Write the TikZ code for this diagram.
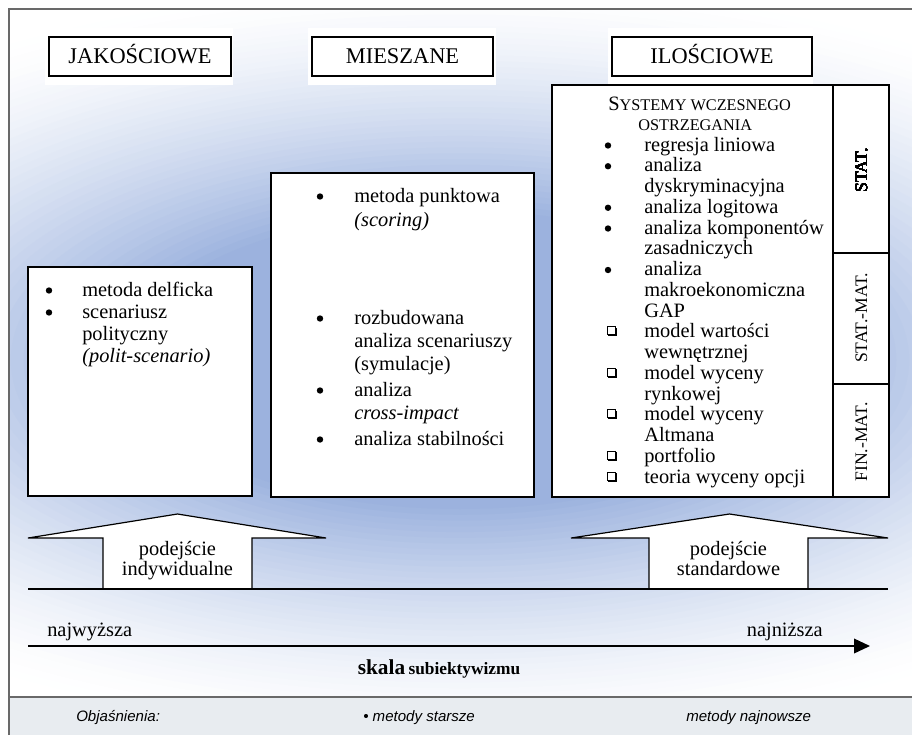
\documentclass[tikz,border=0pt]{standalone}
\usepackage{fontspec}
\setmainfont{Liberation Serif}
\newfontfamily\legfont{Liberation Sans}
\usetikzlibrary{arrows.meta,shadows}
\definecolor{glowc}{RGB}{155,178,222}
\definecolor{legbg}{RGB}{232,236,240}
\definecolor{framec}{RGB}{105,105,105}
\tikzset{
  boxline/.style={draw=black, line width=0.9pt},
  hdr/.style={boxline, fill=white, inner sep=0pt, text height=11.25pt, text depth=0pt,
    font=\fontsize{16.8}{20}\selectfont,
    drop shadow={shadow xshift=1.1pt, shadow yshift=-1.1pt, fill=black!75, opacity=1}},
  txt/.style={anchor=base west, inner sep=0pt, font=\fontsize{15.3}{18}\selectfont},
  side/.style={rotate=90, inner sep=0pt, font=\fontsize{13.2}{16}\selectfont},
  dot/.style={fill=black},
  legtxt/.style={anchor=base west, inner sep=0pt, font=\legfont\itshape\fontsize{11.3}{13}\selectfont},
  upar/.style={boxline, fill=white, line join=miter}
}
\newcommand{\rbul}[2]{\fill[dot] (#1,{#2-5.5}) circle (2.4pt);}
\newcommand{\sqbul}[2]{%
  \draw[line width=0.6pt] ({#1-4},{#2-11}) rectangle ({#1+4},{#2-3});
  \draw[line width=1.3pt] ({#1-3},{#2-2.2}) -- ({#1+4.8},{#2-2.2}) -- ({#1+4.8},{#2-10});}
\begin{document}
\begin{tikzpicture}[x=0.75pt,y=-0.75pt]
\useasboundingbox (0,0) rectangle (912,735);
% background glow (nested ellipses, light outside to strong inside)
\begin{scope}
  \clip (9,9) rectangle (912,697);
  \foreach \k in {0,...,40}{
    \pgfmathsetmacro\rr{1-\k*0.0152}
    \pgfmathsetmacro\pct{min(100,100*((1-\rr)/0.61)^1.5)}
    \fill[glowc!\pct!white] (460,360) ellipse [x radius={637*\rr pt}, y radius={285*\rr pt}];
  }
\end{scope}
% legend strip and frame
\fill[legbg] (9,697) rectangle (912,735);
\draw[framec, line width=0.8pt] (9,697) -- (912,697);
\draw[framec, line width=0.8pt] (9,735) -- (9,9) -- (912,9);
% white halos behind headers
\fill[white] (45,28) rectangle (233,85);
\fill[white] (308,28) rectangle (496,85);
\fill[white] (608,28) rectangle (813,85);
% headers
\node[hdr, minimum width=136.5pt, minimum height=29.25pt] (hjak) at (140,56.5) {JAKOŚCIOWE};
\node[hdr, minimum width=135.75pt, minimum height=29.25pt] (hmie) at (402.5,56.5) {MIESZANE};
\node[hdr, minimum width=150pt, minimum height=29.25pt] (hilo) at (712,56.5) {ILOŚCIOWE};
% main boxes
\draw[boxline, fill=white] (28,267) rectangle (252,496);
\draw[boxline, fill=white] (271,173) rectangle (534,497);
\draw[boxline, fill=white] (552,85) rectangle (889,497);
\draw[boxline] (833,85) -- (833,497);
\draw[boxline] (833,253) -- (889,253);
\draw[boxline] (833,384) -- (889,384);
% left box
\node[txt] (l1) at (82,296) {metoda delficka};
\node[txt] (l2) at (82,318) {scenariusz};
\node[txt] (l3) at (82,340) {polityczny};
\node[txt] (l4) at (82,362) {\itshape (polit-scenario)};
\rbul{49}{296}
\rbul{49}{318}
% middle box
\node[txt] (m1) at (354,202) {metoda punktowa};
\node[txt] (m2) at (354,226) {\itshape (scoring)};
\node[txt] (m3) at (354,324) {rozbudowana};
\node[txt] (m4) at (354,347) {analiza scenariuszy};
\node[txt] (m5) at (354,370) {(symulacje)};
\node[txt] (m6) at (354,396) {analiza};
\node[txt] (m7) at (354,419) {\itshape cross-impact};
\node[txt] (m8) at (354,445) {analiza stabilności};
\rbul{320}{202}
\rbul{320}{324}
\rbul{320}{396}
\rbul{320}{445}
% big box
\node[txt] (sys1) at (608,110) {S{\fontsize{12.2}{14}\selectfont YSTEMY WCZESNEGO}};
\node[txt] (sys2) at (638,130) {\fontsize{12.2}{14}\selectfont OSTRZEGANIA};
\foreach \t [count=\i from 0] in {regresja liniowa, analiza, dyskryminacyjna, analiza logitowa, analiza komponentów, zasadniczych, analiza, makroekonomiczna, GAP, model wartości, wewnętrznej, model wyceny, rynkowej, model wyceny, Altmana, portfolio, teoria wyceny opcji}
  \node[txt] (q\i) at (644,{151+20.75*\i}) {\t};
\foreach \i in {0,1,3,4,6}
  \rbul{608}{151+20.75*\i}
\foreach \i in {9,11,13,15,16}
  \sqbul{611}{151+20.75*\i}
% side labels
\node[side] (s1) at (861.4,170.3) {STAT.};
\node[side] (s2) at (861.4,318) {STAT.-MAT.};
\node[side] (s3) at (861.4,442) {FIN.-MAT.};
% up arrows and base line
\draw[upar] (28,538) -- (177.5,514) -- (326,538) -- (252,538) -- (252,589) -- (103,589) -- (103,538) -- cycle;
\draw[upar] (571,538) -- (729.5,514) -- (888,538) -- (808,538) -- (808,589) -- (649,589) -- (649,538) -- cycle;
\draw[line width=1pt] (28,589) -- (888,589);
\node[txt, anchor=base] (a1) at (177.5,555) {podejście};
\node[txt, anchor=base] (a2) at (177.5,575) {indywidualne};
\node[txt, anchor=base] (a3) at (728.5,555) {podejście};
\node[txt, anchor=base] (a4) at (728.5,575) {standardowe};
% scale
\coordinate (sL) at (28,646);
\coordinate (sR) at (870,646);
\draw[line width=1.1pt, -{Triangle[length=12pt,width=11pt]}] (sL) -- (sR);
\node[txt] (hi) at (47,636) {najwyższa};
\node[txt, anchor=base east] (lo) at (823,636) {najniższa};
\node[anchor=base, inner sep=0pt] (skala) at (439,674) {\bfseries{\fontsize{16}{18}\selectfont skala} {\fontsize{13}{15}\selectfont subiektywizmu}};
% legend
\node[legtxt] (leg1) at (76,721) {Objaśnienia:};
\node[legtxt] (leg2) at (363,721) {• metody starsze};
\node[legtxt] (leg3) at (686,721) {metody najnowsze};
\end{tikzpicture}
\end{document}
